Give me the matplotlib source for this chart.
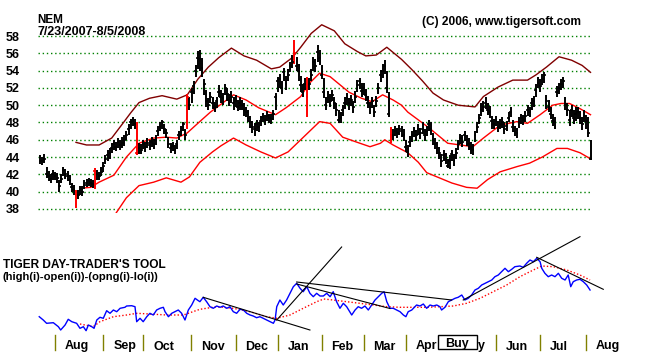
import numpy as np
import matplotlib.pyplot as plt
from matplotlib.patches import Rectangle

plt.rcParams['font.family'] = ['Liberation Sans', 'DejaVu Sans']
plt.rcParams['font.weight'] = 'bold'

## data ################################

# NEM daily bars, 7/23/2007 - 8/5/2008 (trading day index 0..262)
closes = [
    43.6, 43.5, 43.8, 42.0, 41.8, 41.5, 42.0, 41.8, 41.6, 40.7,
    41.5, 42.5, 42.0, 41.8, 41.4, 40.5, 40.2, 39.6, 39.6, 40.2,
    40.0, 40.8, 41.0, 41.2, 41.0, 40.9, 42.4, 42.0, 41.8, 42.3,
    43.0, 43.8, 44.2, 44.5, 45.0, 45.5, 45.2, 45.8, 45.4, 45.6,
    46.0, 46.5, 47.3, 48.0, 48.2, 47.8, 44.5, 45.0, 44.8, 45.5,
    45.2, 45.6, 45.4, 45.8, 45.5, 46.0, 47.0, 47.5, 48.0, 47.2,
    46.8, 45.5, 45.0, 45.3, 44.8, 45.5, 46.5, 47.0, 47.8, 46.5,
    51.0, 50.0, 51.5, 52.2, 54.0, 55.5, 55.3, 54.3, 52.5, 50.5,
    50.0, 51.0, 50.2, 49.8, 50.5, 51.5, 51.0, 50.8, 52.0, 51.3,
    50.6, 51.0, 50.2, 50.5, 49.8, 50.2, 50.0, 49.5, 49.2, 48.5,
    48.0, 47.5, 47.2, 47.8, 47.5, 48.2, 48.6, 48.3, 48.8, 48.5,
    48.4, 49.0, 51.0, 52.8, 53.0, 52.0, 53.8, 52.5, 53.5, 54.5,
    55.0, 56.0, 54.5, 54.0, 52.3, 51.5, 52.5, 51.0, 52.5, 53.5,
    55.0, 54.5, 56.2, 55.5, 53.5, 51.5, 50.0, 51.0, 50.5, 51.2,
    50.3, 49.5, 48.3, 48.5, 49.5, 50.3, 50.8, 50.2, 50.6, 49.8,
    51.0, 52.3, 52.8, 51.6, 52.0, 51.2, 50.3, 49.8, 50.5, 49.2,
    50.5, 52.0, 53.5, 54.0, 54.5, 52.0, 49.0, 46.5, 46.5, 47.0,
    46.8, 47.2, 47.0, 46.5, 45.2, 44.6, 45.8, 46.5, 47.0, 46.5,
    47.2, 46.8, 47.3, 46.5, 47.0, 47.8, 47.2, 46.0, 45.5, 45.0,
    44.5, 43.5, 44.2, 43.8, 43.0, 43.5, 44.3, 43.5, 44.5, 45.5,
    46.2, 45.8, 46.5, 46.0, 45.5, 45.0, 44.8, 46.5, 47.5, 48.5,
    49.5, 49.8, 50.3, 49.5, 49.2, 48.2, 47.8, 48.2, 47.5, 47.8,
    48.0, 47.3, 47.6, 48.5, 49.2, 47.5, 47.0, 46.8, 48.0, 48.5,
    48.3, 48.7, 49.5, 49.2, 50.2, 50.5, 51.8, 52.6, 52.2, 53.0,
    53.5, 50.5, 49.8, 49.0, 48.2, 48.0, 51.5, 52.0, 52.5, 52.8,
    50.0, 49.5, 48.3, 49.5, 48.5, 49.0, 49.2, 48.5, 47.8, 48.8,
    48.2, 46.8, 43.8,
]
highs = [
    44.2, 44.0, 44.3, 42.8, 42.4, 42.0, 42.5, 42.3, 42.2, 41.3,
    42.0, 42.9, 42.6, 42.4, 41.9, 41.0, 40.8, 40.2, 40.2, 40.6,
    40.6, 41.3, 41.5, 41.6, 41.5, 41.4, 42.7, 42.5, 42.3, 42.8,
    43.4, 44.2, 44.8, 45.0, 45.6, 46.0, 45.8, 46.2, 46.0, 46.3,
    46.5, 47.0, 47.8, 48.4, 48.6, 48.4, 48.0, 45.6, 45.5, 46.0,
    45.8, 46.2, 46.0, 46.3, 46.1, 46.6, 47.6, 48.1, 48.3, 47.8,
    47.3, 46.3, 45.6, 45.8, 45.4, 46.0, 47.0, 47.6, 48.1, 47.2,
    51.3, 51.0, 52.0, 52.8, 54.6, 56.3, 56.4, 55.5, 53.0, 51.7,
    50.8, 51.5, 50.9, 50.4, 51.0, 52.3, 51.7, 51.4, 52.5, 52.0,
    51.3, 51.6, 50.9, 51.2, 50.6, 50.9, 50.6, 50.2, 49.8, 49.5,
    48.7, 48.2, 47.9, 48.3, 48.1, 48.7, 49.1, 48.9, 49.3, 49.0,
    49.0, 49.5, 51.4, 53.3, 53.6, 52.8, 54.3, 53.4, 54.2, 55.0,
    55.8, 57.5, 55.6, 54.8, 53.4, 52.5, 53.2, 53.3, 53.2, 54.2,
    55.6, 55.3, 57.0, 56.4, 54.6, 53.2, 51.0, 51.6, 51.3, 51.8,
    51.0, 50.2, 49.4, 49.2, 50.0, 50.9, 51.4, 50.8, 51.2, 50.5,
    51.6, 52.9, 53.2, 52.6, 52.6, 51.9, 51.1, 50.4, 51.0, 50.0,
    51.1, 52.6, 54.1, 54.8, 55.2, 54.0, 51.5, 47.5, 47.3, 47.6,
    47.4, 47.7, 47.6, 47.2, 46.0, 45.4, 46.4, 47.0, 47.5, 47.1,
    47.8, 47.4, 48.0, 47.2, 47.6, 48.3, 48.0, 46.8, 46.2, 45.7,
    45.2, 44.4, 44.8, 44.5, 43.8, 44.2, 44.8, 44.3, 45.0, 46.0,
    46.7, 46.5, 47.0, 46.6, 46.2, 45.7, 45.5, 47.0, 48.0, 49.0,
    50.2, 50.5, 51.0, 50.2, 49.9, 48.8, 48.4, 48.8, 48.2, 48.4,
    48.6, 48.0, 48.2, 49.2, 49.8, 48.3, 47.6, 47.4, 48.6, 49.0,
    48.9, 49.3, 50.0, 49.8, 50.8, 51.1, 52.5, 53.3, 53.0, 53.6,
    53.8, 51.2, 50.6, 49.8, 49.0, 48.6, 52.2, 52.6, 53.0, 53.3,
    51.0, 50.2, 49.5, 50.0, 49.4, 49.8, 49.8, 49.3, 48.6, 49.4,
    48.9, 48.6, 46.0,
]
lows = [
    43.2, 43.1, 43.3, 41.6, 41.2, 41.0, 41.4, 41.3, 41.0, 40.0,
    41.0, 41.8, 41.5, 41.2, 40.8, 40.0, 39.6, 38.1, 39.2, 39.6,
    39.5, 40.3, 40.5, 40.6, 40.5, 40.4, 40.3, 41.4, 41.3, 41.8,
    42.3, 43.2, 43.6, 43.8, 44.5, 44.8, 44.7, 45.0, 44.8, 45.0,
    45.3, 46.0, 46.6, 47.3, 47.6, 47.3, 44.2, 44.3, 44.3, 44.9,
    44.6, 45.0, 44.8, 45.2, 44.9, 45.4, 46.4, 47.0, 47.2, 46.7,
    46.2, 45.0, 44.5, 44.7, 44.3, 44.9, 46.0, 46.4, 47.0, 46.0,
    47.3, 49.4, 50.3, 51.3, 53.3, 54.2, 54.0, 53.3, 51.2, 49.8,
    49.4, 50.2, 49.6, 49.2, 49.7, 51.0, 50.2, 50.0, 51.2, 50.5,
    49.9, 50.2, 49.5, 49.8, 49.3, 49.5, 49.4, 48.8, 48.6, 48.0,
    47.4, 46.8, 46.4, 47.0, 46.9, 47.6, 48.0, 47.7, 48.2, 47.9,
    47.8, 48.3, 49.5, 51.5, 52.0, 51.3, 52.8, 51.8, 52.8, 53.8,
    54.3, 54.8, 54.0, 52.8, 51.5, 51.0, 51.8, 48.6, 51.8, 52.8,
    54.0, 53.8, 55.0, 54.6, 53.0, 50.8, 49.4, 50.2, 49.8, 50.5,
    49.6, 48.8, 47.9, 47.9, 48.8, 49.6, 50.0, 49.4, 49.9, 49.1,
    50.3, 51.5, 51.9, 51.0, 51.2, 50.5, 49.7, 49.0, 49.7, 48.6,
    49.8, 51.3, 52.7, 53.2, 53.6, 51.4, 48.6, 45.6, 46.0, 46.4,
    46.2, 46.6, 46.3, 45.9, 44.6, 44.0, 45.2, 45.8, 46.3, 45.9,
    46.5, 46.1, 46.7, 45.9, 46.4, 47.0, 46.5, 45.4, 44.9, 44.4,
    43.8, 42.9, 43.6, 43.2, 42.7, 42.6, 43.5, 43.0, 43.8, 44.8,
    45.5, 45.2, 45.9, 45.3, 44.8, 44.4, 44.2, 45.8, 46.8, 47.8,
    48.8, 49.2, 49.6, 48.9, 48.5, 47.2, 47.2, 47.6, 46.9, 47.2,
    47.4, 46.7, 47.0, 48.0, 48.6, 46.9, 46.4, 46.2, 47.4, 47.8,
    47.7, 48.1, 48.8, 48.6, 49.5, 49.8, 51.0, 52.0, 51.5, 52.3,
    52.6, 49.6, 49.2, 48.4, 47.6, 47.3, 51.0, 51.3, 51.8, 52.0,
    49.4, 48.8, 47.6, 48.6, 47.8, 48.2, 48.4, 47.8, 47.1, 48.0,
    47.3, 46.3, 43.7,
]
red_days = [17, 26, 46, 70, 121, 127, 167]

# bands
upper_idx = [17, 22, 28, 34, 39, 43, 47, 52, 58, 65, 70, 75, 80, 85, 91, 97, 103, 110,
             114, 120, 124, 129, 134, 140, 145, 151, 155, 160, 165, 168, 172, 177, 182,
             187, 192, 199, 207, 211, 218, 225, 232, 236, 241, 247, 253, 258, 262]
upper = [45.7, 45.4, 45.4, 46.2, 47.8, 49.1, 50.3, 50.8, 51.1, 50.7, 51.2, 53.0, 54.4,
         55.5, 56.6, 55.7, 55.2, 54.2, 54.4, 55.5, 56.7, 58.3, 59.3, 58.6, 57.1, 56.2,
         55.7, 55.8, 56.7, 56.1, 55.3, 54.1, 52.8, 51.4, 50.6, 50.0, 49.8, 51.0, 52.1,
         52.9, 52.9, 53.5, 54.4, 55.6, 55.2, 54.6, 53.8]
mid_idx = [19, 24, 28, 35, 41, 47, 54, 60, 65, 70, 75, 81, 86, 92, 98, 104, 112, 117,
           124, 128, 133, 138, 143, 147, 153, 158, 163, 168, 172, 175, 180, 185, 189,
           194, 200, 206, 211, 219, 227, 232, 238, 244, 248, 252, 257, 262]
mid = [40.4, 40.5, 41.1, 41.9, 44.0, 45.6, 46.2, 46.3, 46.2, 46.8, 47.9, 49.2, 50.1,
       51.2, 50.6, 49.7, 48.9, 49.7, 51.0, 52.5, 53.7, 53.3, 52.3, 51.5, 50.8, 50.4,
       51.2, 50.6, 50.0, 49.2, 48.3, 47.4, 46.6, 45.6, 45.4, 45.2, 46.2, 47.7, 48.1,
       47.9, 48.9, 50.0, 50.2, 50.2, 49.6, 48.9]
lower_idx = [36, 41, 47, 54, 60, 67, 71, 76, 82, 86, 92, 98, 105, 112, 118, 124, 130,
             133, 138, 144, 151, 157, 162, 164, 168, 175, 180, 184, 190, 196, 203, 208,
             213, 219, 227, 233, 239, 246, 251, 257, 262]
lower = [37.5, 39.3, 40.7, 41.1, 41.6, 41.1, 41.7, 43.4, 44.6, 45.3, 46.2, 45.4, 44.6,
         43.9, 44.6, 46.0, 47.4, 48.1, 47.9, 46.3, 45.7, 45.2, 45.6, 46.0, 45.4, 44.5,
         43.4, 42.2, 41.6, 41.0, 40.5, 40.4, 41.4, 42.3, 42.9, 43.3, 44.0, 45.0, 45.0,
         44.5, 43.8]

# Tiger day-trader's tool (cumulative, arbitrary units)
tool_idx = [-0.5, 1.4, 3.0, 6.2, 8.6, 9.7, 11.8, 13.3, 15.0, 17.3, 18.9, 20.5, 21.8,
            22.9, 24.5, 25.6, 26.9, 28.4, 30.0, 31.6, 33.2, 34.8, 36.4, 38.0, 40.3, 41.1,
            43.5, 45.1, 45.9, 47.5, 49.0, 50.7, 52.2, 53.8, 55.4, 57.0, 58.6, 59.4, 61.0,
            62.6, 64.1, 65.7, 67.3, 68.9, 70.5, 72.1, 73.7, 74.8, 76.0, 77.6, 79.2, 80.8,
            82.4, 84.0, 85.6, 87.1, 88.8, 90.3, 91.9, 93.5, 95.1, 96.7, 98.3, 99.9, 101.4,
            103.0, 104.6, 106.2, 107.8, 109.4, 111.0, 111.8, 112.6, 114.1, 115.7, 117.3,
            118.9, 120.5, 122.1, 123.7, 125.2, 126.9, 128.4, 130.0, 131.6, 133.2, 134.8,
            136.4, 138.0, 139.5, 141.1, 142.7, 144.3, 145.9, 148.3, 149.9, 151.4, 153.0,
            154.6, 156.2, 157.8, 159.4, 161.0, 162.6, 163.7, 165.0, 166.5, 168.1, 169.7,
            171.3, 172.9, 174.1, 175.2, 176.9, 179.2, 180.8, 182.4, 184.0, 185.6, 187.1,
            188.8, 190.3, 191.1, 192.7, 194.3, 195.9, 197.5, 199.0, 200.7, 202.2, 203.8,
            205.4, 207.0, 208.6, 210.2, 211.8, 213.3, 215.0, 216.5, 218.1, 219.7, 221.3,
            222.9, 224.5, 226.0, 228.4, 230.0, 231.6, 233.2, 234.8, 236.4, 238.0, 238.8,
            240.3, 241.9, 243.5, 245.1, 246.7, 248.3, 249.9, 251.4, 252.6, 253.8, 255.4,
            257.0, 258.6, 260.2, 261.8]
tool = [1.83, 1.5, 1.17, 1.23, 0.83, 0.5, 1.0, 1.57, 1.33, 1.17, 0.67, 0.83, 0.43,
        1.0, 0.83, 0.67, 1.5, 1.77, 1.67, 2.43, 2.17, 2.5, 2.33, 2.67, 2.77, 2.9,
        2.93, 2.83, 1.33, 1.67, 1.33, 1.83, 2.17, 2.0, 2.5, 2.67, 2.77, 2.33, 1.83,
        2.17, 2.33, 2.5, 2.17, 1.5, 2.5, 3.0, 3.67, 3.5, 3.33, 3.77, 3.33, 2.83,
        2.67, 2.9, 2.77, 2.9, 2.67, 2.83, 2.33, 2.17, 2.57, 2.5, 2.17, 2.0, 1.9,
        1.73, 1.83, 1.67, 1.5, 1.33, 1.17, 1.5, 2.83, 3.5, 3.0, 3.5,
        4.17, 4.83, 5.17, 4.67, 4.33, 4.83, 4.17, 3.83, 4.17, 3.9, 3.9,
        4.17, 3.83, 4.33, 3.33, 2.67, 3.17, 2.83, 2.0, 2.5, 2.83, 2.67,
        2.9, 2.5, 3.0, 3.5, 3.83, 4.17, 4.33, 3.33, 2.67, 2.67, 2.5,
        2.33, 2.0, 1.83, 2.33, 2.5, 3.0, 2.9, 3.1, 2.67, 3.0, 2.9,
        3.0, 2.83, 2.5, 2.77, 3.33, 3.5, 3.67, 3.77, 4.0, 3.5, 3.67,
        4.0, 4.5, 4.67, 5.0, 5.17, 5.33, 5.5, 5.83, 6.0, 6.33, 6.67,
        6.33, 6.57, 6.83, 6.9, 6.77, 7.17, 7.5, 7.33, 7.67, 7.33, 6.67,
        6.17, 5.83, 6.0, 5.83, 6.17, 5.67, 5.5, 6.0, 4.83, 5.33, 5.5,
        5.57, 5.33, 5.0, 4.5]
ma_idx = [18.9, 25.2, 28.4, 34.8, 41.1, 45.9, 52.2, 60.2, 68.1, 76.0, 84.0, 91.9, 99.9,
          107.8, 112.6, 118.9, 125.2, 131.6, 135.0, 139.5, 145.9, 152.2, 158.6, 165.0,
          171.3, 177.6, 184.0, 190.3, 196.7, 203.0, 209.4, 215.7, 222.1, 228.4, 234.8,
          238.8, 244.3, 250.7, 257.0, 261.8]
tool_ma = [1.1, 0.83, 1.33, 1.83, 2.0, 2.17, 2.1, 2.0, 2.0, 2.57, 2.83, 2.67, 2.33,
           1.83, 1.67, 2.0, 2.67, 3.33, 3.6, 3.5, 3.33, 3.17, 3.0, 2.83,
           2.77, 2.77, 2.77, 2.83, 2.9, 3.17, 3.67, 4.33, 5.0, 5.83, 6.5,
           6.9, 6.83, 6.5, 6.0, 5.5]
# trendlines drawn on the tool: (x0, y0, x1, y1)
trendlines = [
    (77.6, 3.77, 128.4, 0.5),
    (112.6, 1.5, 143.5, 8.8),
    (122.1, 5.3, 195.9, 3.5),
    (122.1, 5.1, 166.5, 2.65),
    (201.4, 3.5, 257.0, 9.83),
    (236.4, 7.77, 268.1, 4.57),
]

month_days = [7, 30, 49, 72, 93, 113, 134, 154, 174, 196, 217, 238, 260]
# May label is hidden behind the Buy box, only its last letter shows
month_names = ['Aug', 'Sep', 'Oct', 'Nov', 'Dec', 'Jan', 'Feb', 'Mar', 'Apr', 'y',
               'Jun', 'Jul', 'Aug']
price_ticks = list(range(38, 60, 2))

## plot ################################

W, H = 651, 352

def fx(x):
    return x / W

def fy(y):
    return 1 - y / H

fig = plt.figure(figsize=(W / 100, H / 100), dpi=100)
fig.patch.set_facecolor('white')

# price panel
ax = fig.add_axes([fx(38), fy(213.3), (592 - 38) / W, (213.3 - 21.3) / H])
ax.set_xlim(-1.095, 262.71)
ax.set_ylim(37.5, 59.7)
for s in ax.spines.values():
    s.set_visible(False)
ax.set_xticks([])
ax.set_yticks(price_ticks)
ax.set_yticklabels([str(t) for t in price_ticks], fontsize=9, fontweight='bold')
ax.tick_params(axis='y', length=0, pad=13.3)

ax.hlines(price_ticks, -1.1, 262.6, colors='#008000', linestyles=(0, (1, 2)), lw=1.0, zorder=1)

days = np.arange(len(closes))
cols = ['#ff0000' if d in red_days else 'black' for d in days]
ax.vlines(days, lows, highs, colors=cols, lw=1.4, zorder=3)
ax.hlines(closes, days - 0.7, days + 0.7, colors=cols, lw=1.2, zorder=3)

ax.plot(upper_idx, upper, color='#800000', lw=1.0, zorder=2)
ax.plot(mid_idx, mid, color='#ff0000', lw=1.0, zorder=2)
ax.plot(lower_idx, lower, color='#ff0000', lw=1.0, zorder=2)

# tool panel
ax2 = fig.add_axes([fx(38), fy(335), (610 - 38) / W, 105 / H])
ax2.set_xlim(-1.095, 271.3)
ax2.set_ylim(0, 10.5)
ax2.axis('off')
ax2.plot(ma_idx, tool_ma, color='#ff0000', lw=1.0, linestyle=(0, (1, 1.5)))
ax2.plot(tool_idx, tool, color='#0000ff', lw=1.0)
for x0, y0, x1, y1 in trendlines:
    ax2.plot([x0, x1], [y0, y1], color='black', lw=0.8, clip_on=False)

for d, name in zip(month_days, month_names):
    if name == 'y':
        ax2.text(d + 12.3, -1.45, name, fontsize=9, fontweight='bold', ha='left',
                 va='baseline', clip_on=False)
        continue
    ax2.plot([d, d], [0, -1.5], color='#808000', lw=1.0, clip_on=False)
    ax2.text(d + 4.7, -1.45, name, fontsize=9, fontweight='bold', ha='left',
             va='baseline', clip_on=False)

# Buy marker box over May
fig.add_artist(Rectangle((fx(438), fy(348.5)), 39 / W, 13.5 / H, transform=fig.transFigure,
                         facecolor='white', edgecolor='black', lw=1.0, zorder=5))
fig.text(fx(457.5), fy(346.5), 'Buy', fontsize=9, fontweight='bold', ha='center',
         va='baseline', zorder=6)

# titles
fig.text(fx(37), fy(23.3), 'NEM', fontsize=8.5, fontweight='bold', va='baseline')
fig.text(fx(37), fy(34.7), '7/23/2007-8/5/2008', fontsize=9, fontweight='bold', va='baseline')
fig.text(fx(421.5), fy(25), '(C) 2006, www.tigersoft.com', fontsize=8.6, fontweight='bold',
         va='baseline')
fig.text(fx(2.7), fy(268.5), "TIGER DAY-TRADER'S TOOL", fontsize=8.6, fontweight='bold',
         va='baseline')
fig.text(fx(2.7), fy(279.5), '(high(i)-open(i))-(opng(i)-lo(i))', fontsize=8.1,
         fontweight='bold', va='baseline')

fig.savefig('out.png', dpi=100, facecolor='white')
